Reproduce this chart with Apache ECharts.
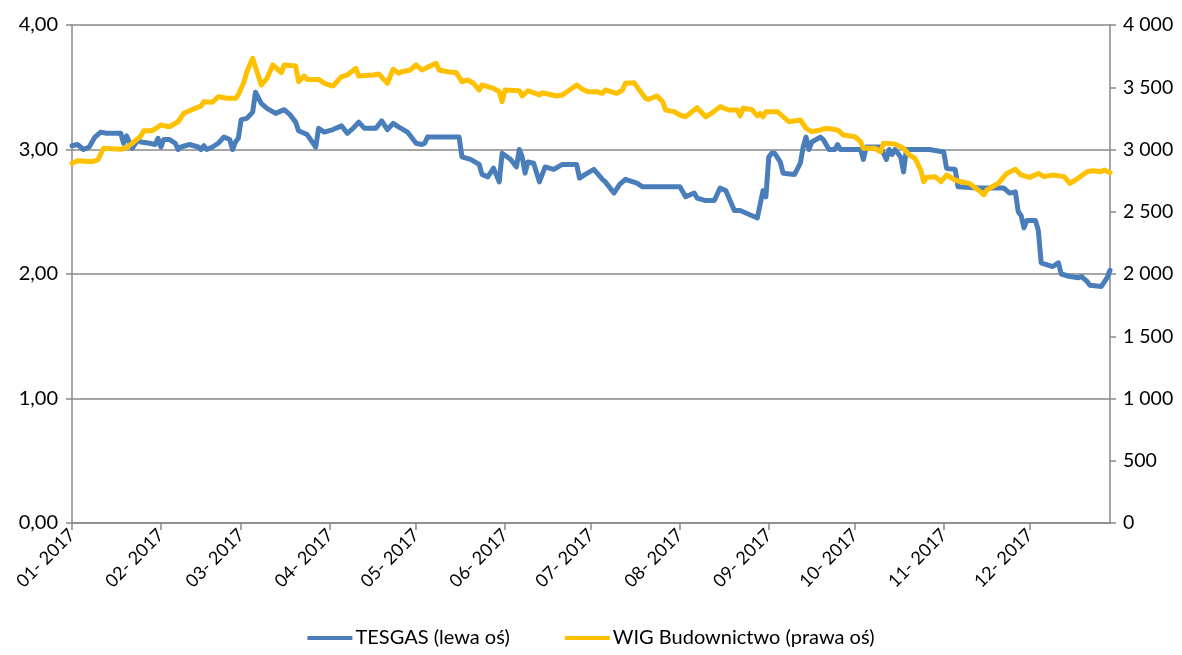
<!DOCTYPE html>
<html><head><meta charset="utf-8">
<script src="https://cdn.jsdelivr.net/npm/echarts@6/dist/echarts.min.js"></script>
<style>html,body{margin:0;padding:0;background:#fff}#c{width:1182px;height:655px}</style>
</head><body><div id="c"></div>
<script>
const year = 2017;
const axisStart = '01-01';
const axisEnd = '12-29';

const tesgasDates = ['01-01','01-03','01-05','01-07','01-09','01-11','01-13','01-18','01-19','01-20','01-21','01-22','01-24','01-25','01-28','01-30','01-31','02-01','02-02','02-04','02-06','02-07','02-08','02-11','02-14','02-15','02-16','02-17','02-19','02-21','02-23','02-25','02-26','02-27','02-28','03-01','03-03','03-05','03-06','03-08','03-10','03-13','03-16','03-18','03-20','03-21','03-24','03-27','03-28','03-30','04-02','04-05','04-07','04-09','04-11','04-13','04-17','04-19','04-21','04-23','04-25','04-28','05-01','05-03','05-04','05-05','05-16','05-17','05-20','05-23','05-24','05-26','05-28','05-30','05-31','06-03','06-05','06-06','06-07','06-08','06-09','06-11','06-13','06-15','06-18','06-21','06-26','06-27','06-29','07-02','07-05','07-06','07-09','07-11','07-13','07-17','07-19','08-01','08-03','08-06','08-07','08-10','08-13','08-15','08-17','08-20','08-22','08-24','08-26','08-28','08-30','08-31','09-01','09-02','09-03','09-05','09-06','09-10','09-12','09-13','09-14','09-15','09-16','09-19','09-20','09-22','09-24','09-25','09-26','10-03','10-04','10-05','10-10','10-12','10-13','10-14','10-15','10-17','10-18','10-19','10-27','11-01','11-02','11-05','11-06','11-13','11-22','11-24','11-26','11-27','11-28','11-29','11-30','12-03','12-04','12-05','12-09','12-11','12-12','12-15','12-18','12-19','12-21','12-22','12-26','12-28','12-29'];
const tesgasValues = [3.03,3.04,3.00,3.02,3.10,3.14,3.13,3.13,3.05,3.11,3.06,3.01,3.08,3.06,3.05,3.04,3.09,3.02,3.08,3.08,3.05,3.00,3.02,3.04,3.02,3.00,3.03,3.00,3.02,3.05,3.10,3.08,3.00,3.06,3.09,3.24,3.25,3.30,3.46,3.37,3.33,3.29,3.32,3.28,3.22,3.15,3.12,3.02,3.17,3.14,3.16,3.19,3.13,3.17,3.22,3.17,3.17,3.23,3.16,3.21,3.18,3.14,3.05,3.04,3.05,3.10,3.10,2.94,2.92,2.88,2.80,2.78,2.85,2.74,2.97,2.92,2.86,3.00,2.94,2.81,2.90,2.89,2.74,2.86,2.84,2.88,2.88,2.77,2.80,2.84,2.76,2.74,2.65,2.72,2.76,2.73,2.70,2.70,2.62,2.65,2.61,2.59,2.59,2.69,2.67,2.51,2.51,2.49,2.47,2.45,2.67,2.62,2.94,2.97,2.97,2.90,2.81,2.80,2.89,3.02,3.10,3.00,3.06,3.10,3.08,3.00,3.00,3.04,3.00,3.00,2.92,3.02,3.02,2.92,3.00,2.96,3.00,2.94,2.82,3.00,3.00,2.98,2.85,2.84,2.70,2.69,2.69,2.65,2.66,2.50,2.47,2.37,2.43,2.43,2.35,2.09,2.06,2.09,2.00,1.98,1.97,1.98,1.94,1.91,1.90,1.97,2.03];

const wigDates = ['01-01','01-03','01-08','01-10','01-12','01-18','01-20','01-22','01-25','01-26','01-29','02-01','02-04','02-07','02-09','02-12','02-15','02-16','02-19','02-21','02-24','02-27','02-28','03-02','03-03','03-04','03-05','03-08','03-10','03-12','03-15','03-16','03-20','03-21','03-23','03-24','03-28','03-30','04-02','04-05','04-07','04-10','04-11','04-16','04-18','04-21','04-23','04-25','04-26','04-29','05-01','05-03','05-08','05-09','05-12','05-15','05-17','05-19','05-21','05-23','05-24','05-28','05-30','05-31','06-01','06-06','06-07','06-09','06-13','06-14','06-19','06-21','06-26','06-28','06-30','07-03','07-05','07-06','07-10','07-12','07-13','07-16','07-17','07-20','07-21','07-24','07-26','07-27','07-30','08-01','08-03','08-07','08-10','08-12','08-15','08-18','08-21','08-22','08-23','08-26','08-28','08-29','08-30','08-31','09-04','09-06','09-08','09-12','09-14','09-16','09-19','09-21','09-25','09-27','10-01','10-03','10-04','10-08','10-10','10-11','10-15','10-18','10-20','10-22','10-24','10-25','10-26','10-29','10-31','11-02','11-05','11-07','11-10','11-13','11-15','11-16','11-18','11-20','11-22','11-23','11-26','11-28','12-01','12-04','12-06','12-09','12-13','12-15','12-17','12-21','12-23','12-26','12-27','12-29'];
const wigValues = [2889,2910,2902,2916,3010,3002,3015,3050,3108,3151,3151,3197,3183,3223,3291,3322,3349,3384,3379,3424,3411,3411,3440,3545,3625,3679,3733,3518,3572,3679,3617,3679,3671,3545,3590,3563,3563,3532,3510,3585,3598,3652,3590,3598,3606,3532,3644,3612,3625,3639,3679,3639,3692,3639,3625,3617,3545,3558,3532,3478,3518,3491,3464,3384,3478,3472,3430,3472,3438,3456,3430,3438,3518,3484,3464,3464,3451,3478,3451,3478,3532,3537,3505,3411,3403,3430,3384,3317,3304,3277,3263,3336,3263,3290,3344,3317,3317,3269,3331,3322,3270,3290,3263,3304,3304,3263,3223,3237,3170,3143,3157,3170,3157,3116,3103,3063,3010,3010,2982,3050,3044,3010,2956,2929,2835,2741,2775,2782,2741,2795,2755,2741,2728,2675,2635,2675,2701,2728,2782,2808,2841,2795,2776,2808,2782,2795,2782,2728,2755,2822,2830,2822,2835,2813];

const leftTicks = {min: 0, max: 4, interval: 1};
const rightTicks = {min: 0, max: 4000, interval: 500};
const seriesNames = ['TESGAS (lewa oś)', 'WIG Budownictwo (prawa oś)'];

// calendar-day categories
const categories = [];
for (let t = Date.UTC(year, 0, 1); ; t += 86400000) {
  const d = new Date(t);
  const s = String(d.getUTCMonth() + 1).padStart(2, '0') + '-' + String(d.getUTCDate()).padStart(2, '0');
  categories.push(s);
  if (s === axisEnd) break;
}
function buildData(dates, vals) {
  const arr = new Array(categories.length).fill(null);
  dates.forEach((d, i) => { const k = categories.indexOf(d); if (k >= 0) arr[k] = vals[i]; });
  return arr;
}
const isMonthStart = (i, v) => v.slice(3) === '01';
const fontFam = 'Lato, "Noto Sans", sans-serif';
const gridColor = '#898989';

const chart = echarts.init(document.getElementById('c'), null, {renderer: 'canvas'});
chart.setOption({
  animation: false,
  backgroundColor: '#ffffff',
  grid: {left: 72, right: 72, top: 25, bottom: 132, containLabel: false, outerBoundsMode: 'none'},
  legend: {
    bottom: 2, left: 'center', icon: 'rect', itemWidth: 45, itemHeight: 4, itemGap: 55,
    textStyle: {fontSize: 20, color: '#000', fontFamily: fontFam, padding: [0, 0, 0, -2]},
    data: seriesNames
  },
  xAxis: {
    type: 'category', data: categories, boundaryGap: false,
    axisLine: {lineStyle: {color: gridColor, width: 1.5}},
    axisTick: {interval: isMonthStart, length: 7, lineStyle: {color: gridColor, width: 1.5}},
    axisLabel: {interval: isMonthStart, rotate: 45, margin: 9, fontSize: 18, color: '#000', fontFamily: fontFam,
      formatter: v => v.slice(0, 2) + '- ' + year},
    splitLine: {show: false}
  },
  yAxis: [{
    type: 'value', position: 'left', min: leftTicks.min, max: leftTicks.max, interval: leftTicks.interval,
    axisLine: {show: true, lineStyle: {color: gridColor, width: 1.5}},
    axisTick: {show: true, length: 6, lineStyle: {color: gridColor, width: 1.5}},
    axisLabel: {fontSize: 20, color: '#000', fontFamily: fontFam, margin: 14,
      formatter: v => v.toFixed(2).replace('.', ',')},
    splitLine: {show: true, lineStyle: {color: gridColor, width: 1.5}}
  }, {
    type: 'value', position: 'right', min: rightTicks.min, max: rightTicks.max, interval: rightTicks.interval,
    axisLine: {show: true, lineStyle: {color: gridColor, width: 1.5}},
    axisTick: {show: true, length: 6, lineStyle: {color: gridColor, width: 1.5}},
    axisLabel: {fontSize: 19.5, color: '#000', fontFamily: fontFam, margin: 13,
      formatter: v => v >= 1000 ? Math.floor(v / 1000) + ' ' + String(v % 1000).padStart(3, '0') : String(v)},
    splitLine: {show: false}
  }],
  series: [{
    name: seriesNames[0], type: 'line', yAxisIndex: 0, data: buildData(tesgasDates, tesgasValues),
    connectNulls: true, showSymbol: false, symbol: 'none', color: '#4A7EBB',
    lineStyle: {width: 5, color: '#4A7EBB', join: 'round', cap: 'round'}
  }, {
    name: seriesNames[1], type: 'line', yAxisIndex: 1, data: buildData(wigDates, wigValues),
    connectNulls: true, showSymbol: false, symbol: 'none', color: '#FFC000',
    lineStyle: {width: 5, color: '#FFC000', join: 'round', cap: 'round'}
  }]
});
</script>
</body></html>
